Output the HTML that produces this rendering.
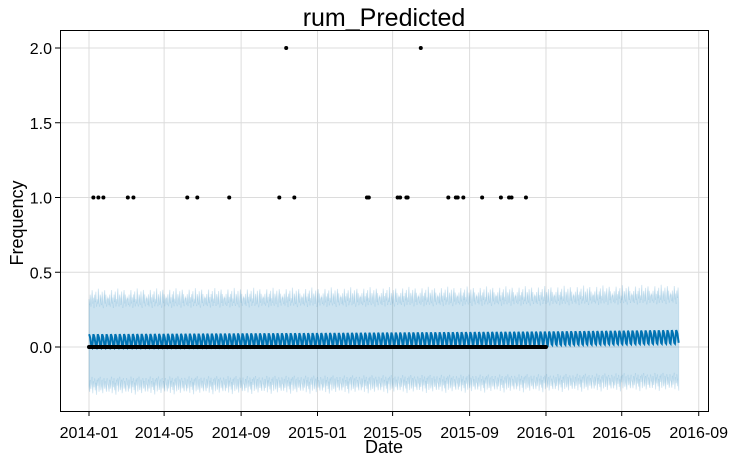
<!DOCTYPE html>
<html><head><meta charset="utf-8"><style>
body{margin:0;background:#fff;}
svg text{font-family:"Liberation Sans","DejaVu Sans",sans-serif;fill:#000;}
</style></head><body>
<svg id="chart" width="737" height="462" viewBox="0 0 737 462" xmlns="http://www.w3.org/2000/svg">
<rect x="0" y="0" width="737" height="462" fill="#fff"/>
<g id="grid"></g>
<g id="band"></g>
<g id="line"></g>
<g id="pts"></g>
<rect x="60.5" y="30.5" width="648" height="381" fill="none" stroke="#000" stroke-width="1"/>
<g id="ticks"></g>
<text x="384" y="26" font-size="25" text-anchor="middle">rum_Predicted</text>
<text x="384" y="453" font-size="18" text-anchor="middle">Date</text>
<text x="23" y="223" font-size="18" text-anchor="middle" transform="rotate(-90 23 223)">Frequency</text>
</svg>
<script>
// ---- data ----
const xTickLabels = ["2014-01","2014-05","2014-09","2015-01","2015-05","2015-09","2016-01","2016-05","2016-09"];
const xTickDays = [0,120,243,365,485,608,730,851,974];
const yTickValues = [0.0,0.5,1.0,1.5,2.0];
const historyDays = 731;      // observations 2014-01-01 .. 2016-01-01
const forecastDays = 943;     // forecast through 2016-07-31
const oneDays = [7,15,23,62,71,157,173,224,304,328,444,447,493,497,507,509,574,586,589,598,628,658,671,675,698];
const twoDays = [315,530];
const trendKnotDays = [0,365,730,942];
const trendKnotValues = [0.040,0.048,0.058,0.068];
const weeklyEffect = [0.045,0.035,0.02,-0.01,-0.04,-0.045,-0.005];
const upperWidth = [0.30,0.26,0.33,0.25,0.29,0.36,0.27,0.31,0.24,0.33,0.28,0.35,0.25,0.30,0.27,0.37,0.28,0.25,0.33,0.30,0.26,0.35,0.28,0.24,0.31,0.36,0.27,0.33,0.25,0.29,0.31];
const lowerWidth = [0.30,0.34,0.26,0.32,0.28,0.24,0.35,0.27,0.31,0.25,0.33,0.28,0.36,0.26,0.30,0.25,0.34,0.28,0.24,0.33,0.30,0.26,0.35,0.28,0.25,0.32,0.27,0.31,0.34,0.25,0.29];

// ---- axes ----
const X0=89, PX_PER_DAY=0.626, Y0=347, PX_PER_UNIT=149.5;
const xs = d => X0 + d*PX_PER_DAY;
const ys = v => Y0 - v*PX_PER_UNIT;
const NS="http://www.w3.org/2000/svg";
function mk(tag, attrs, parent){const e=document.createElementNS(NS,tag);for(const k in attrs)e.setAttribute(k,attrs[k]);parent.appendChild(e);return e;}
const grid=document.getElementById('grid'), ticks=document.getElementById('ticks');

xTickDays.forEach((d,i)=>{
  const x=xs(d);
  const g=mk('line',{x1:x,x2:x,y1:30,y2:411,stroke:'#dcdcdc','stroke-width':1},grid);
  
  
  const t=mk('line',{x1:x,x2:x,y1:411,y2:416,stroke:'#000'},ticks);
  
  
  const l=mk('text',{x:x,y:438,'font-size':16,'text-anchor':'middle'},ticks);
  l.textContent=xTickLabels[i];
  
  
});
yTickValues.forEach(v=>{
  const y=ys(v);
  const g=mk('line',{x1:60,x2:708,y1:y,y2:y,stroke:'#dcdcdc','stroke-width':1},grid);
  
  
  const t=mk('line',{x1:55,x2:60,y1:y,y2:y,stroke:'#000'},ticks);
  
  
  const l=mk('text',{x:52,y:y+6,'font-size':16,'text-anchor':'end'},ticks);
  l.textContent=v.toFixed(1);
  
  
});

function trend(d){
  for(let i=0;i<trendKnotDays.length-1;i++){
    if(d<=trendKnotDays[i+1]){const f=(d-trendKnotDays[i])/(trendKnotDays[i+1]-trendKnotDays[i]);return trendKnotValues[i]+f*(trendKnotValues[i+1]-trendKnotValues[i]);}
  }
  return trendKnotValues[trendKnotValues.length-1];
}
const yhat=[],up=[],lo=[];
for(let d=0;d<forecastDays;d++){
  const v=trend(d)+weeklyEffect[d%7];
  yhat.push(v);
  up.push(trend(d)+upperWidth[d%upperWidth.length]-0.02);
  lo.push(trend(d)-lowerWidth[d%lowerWidth.length]);
}
// band
let p='M'+xs(0)+','+ys(up[0]);
for(let d=1;d<forecastDays;d++)p+=' L'+xs(d).toFixed(2)+','+ys(up[d]).toFixed(2);
for(let d=forecastDays-1;d>=0;d--)p+=' L'+xs(d).toFixed(2)+','+ys(lo[d]).toFixed(2);
p+='Z';
const band=mk('path',{d:p,fill:'#0072B2','fill-opacity':0.2,stroke:'#0072B2','stroke-opacity':0.15,'stroke-width':1},document.getElementById('band'));


// line
let lp='';
for(let d=0;d<forecastDays;d++)lp+=(d?' L':'M')+xs(d).toFixed(2)+','+ys(yhat[d]).toFixed(2);
const ln=mk('path',{d:lp,fill:'none',stroke:'#0072B2','stroke-width':2},document.getElementById('line'));


// points
const pts=document.getElementById('pts');
for(let d=0;d<historyDays;d++){
  let v=0;
  if(oneDays.includes(d))v=1;
  if(twoDays.includes(d))v=2;
  const c=mk('circle',{cx:xs(d).toFixed(2),cy:ys(v).toFixed(2),r:2,fill:'#000'},pts);
  
  
}
</script>
</body></html>
